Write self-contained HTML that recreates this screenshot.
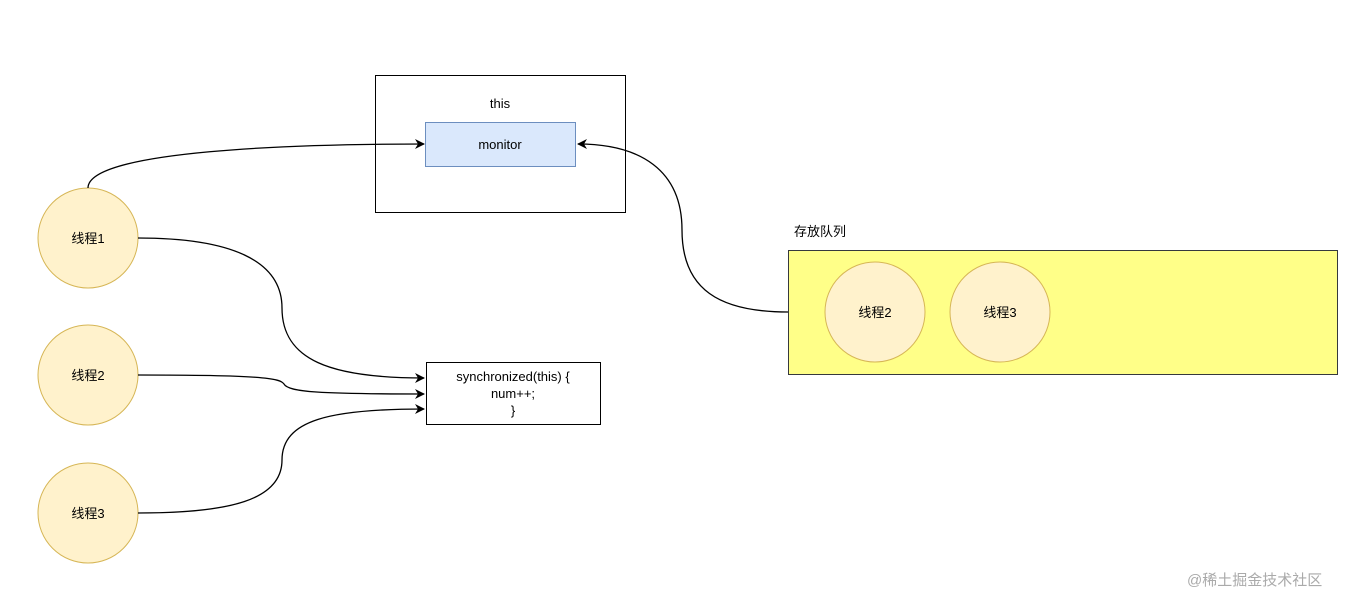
<!DOCTYPE html>
<html><head><meta charset="utf-8"><style>
body{margin:0;background:#fff;}
svg text{font-family:"Liberation Sans","Noto Sans CJK SC",sans-serif;font-size:13px;fill:#000;}
</style></head><body>
<svg width="1366" height="608" viewBox="0 0 1366 608" xmlns="http://www.w3.org/2000/svg">
<defs><marker id="a" markerWidth="10" markerHeight="10" refX="9" refY="5" orient="auto" markerUnits="userSpaceOnUse"><path d="M0,0 L10,5 L0,10 L3,5 Z" fill="#000"/></marker></defs>
<rect x="375.5" y="75.5" width="250" height="137" fill="#fff" stroke="#000"/>
<text x="500" y="108" text-anchor="middle">this</text>
<rect x="425.5" y="122.5" width="150" height="44" fill="#dae8fc" stroke="#6c8ebf"/>
<text x="500" y="149" text-anchor="middle">monitor</text>
<rect x="426.5" y="362.5" width="174" height="62" fill="#fff" stroke="#000"/>
<text x="513" y="381" text-anchor="middle">synchronized(this) {</text>
<text x="513" y="398" text-anchor="middle">num++;</text>
<text x="513" y="415" text-anchor="middle">}</text>
<text x="794" y="236">存放队列</text>
<rect x="788.5" y="250.5" width="549" height="124" fill="#ffff88" stroke="#36393d"/>
<g fill="#fff2cc" stroke="#d6b656">
<circle cx="88" cy="238" r="50"/><circle cx="88" cy="375" r="50"/><circle cx="88" cy="513" r="50"/>
<circle cx="875" cy="312" r="50"/><circle cx="1000" cy="312" r="50"/></g>
<text x="88" y="243" text-anchor="middle">线程1</text>
<text x="88" y="380" text-anchor="middle">线程2</text>
<text x="88" y="518" text-anchor="middle">线程3</text>
<text x="875" y="317" text-anchor="middle">线程2</text>
<text x="1000" y="317" text-anchor="middle">线程3</text>
<g fill="none" stroke="#000" stroke-width="1.3" marker-end="url(#a)">
<path d="M88,188 C88,150 300,144 424,144"/>
<path d="M138,238 C230,238 282,260 282,308 C282,360 330,378 424,378"/>
<path d="M138,375 C260,375 280,378 284,384 C288,392 320,394 424,394"/>
<path d="M138,513 C230,513 282,500 282,460 C282,420 330,409 424,409"/>
<path d="M788,312 C720,312 682,290 682,230 C682,170 640,144 578,144"/>
</g>
<text x="1187" y="585" style="fill:#aaa;font-size:15px">@稀土掘金技术社区</text>
</svg>
</body></html>
